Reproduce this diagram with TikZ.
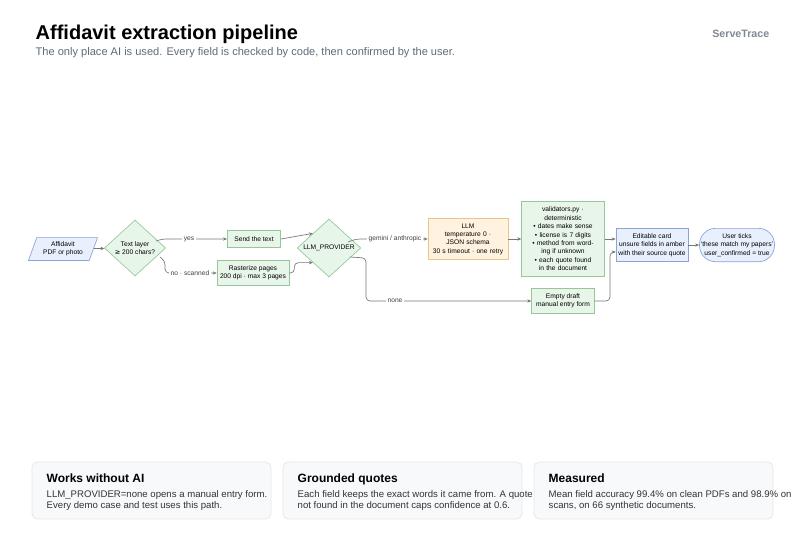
\documentclass[tikz,border=0pt]{standalone}
\usepackage{fontspec}
\setmainfont{Liberation Sans}
\newfontfamily\symf{DejaVu Sans}
\usetikzlibrary{shapes.geometric,arrows.meta}
\definecolor{bfill}{HTML}{E8F0FE}\definecolor{bdraw}{HTML}{8AA4D6}
\definecolor{gfill}{HTML}{E8F5E9}\definecolor{gdraw}{HTML}{95C79B}
\definecolor{ofill}{HTML}{FFF3E0}\definecolor{odraw}{HTML}{EBC48A}
\definecolor{edge}{HTML}{777777}\definecolor{sub}{HTML}{5F6B7A}
\definecolor{cardf}{HTML}{F8F9FA}\definecolor{cardd}{HTML}{E3E6EA}
\begin{document}
\begin{tikzpicture}[x=0.75pt,y=-0.75pt,
  nd/.style={draw,line width=0.5pt,align=center,font=\fontsize{5}{6.3}\selectfont,inner sep=1pt},
  gbox/.style={nd,fill=gfill,draw=gdraw,rectangle},
  dia/.style={nd,diamond,fill=gfill,draw=gdraw,aspect=1.1},
  ar/.style={draw=edge,line width=0.5pt,-{Stealth[length=3pt,width=2.5pt]},rounded corners=3pt},
  lb/.style={fill=white,inner sep=1pt,font=\fontsize{5}{6}\selectfont,text=black!75},
  card/.style={draw=cardd,fill=cardf,rounded corners=4pt,line width=0.5pt}]
\useasboundingbox (0,0) rectangle (806,537);
\fill[white] (0,0) rectangle (806,537);
\node[anchor=base west,font=\fontsize{15}{18}\selectfont\bfseries] (title) at (31,39) {Affidavit extraction pipeline};
\node[anchor=base west,font=\fontsize{8.3}{10}\selectfont,text=sub] (subt) at (31,55) {The only place AI is used. Every field is checked by code, then confirmed by the user.};
\node[anchor=base east,font=\fontsize{8}{10}\selectfont\bfseries,text=sub!80] (brand) at (774,37) {ServeTrace};

\node[nd,trapezium,trapezium left angle=70,trapezium right angle=110,fill=bfill,draw=bdraw,minimum width=52pt,minimum height=16pt,inner xsep=0pt] (aff) at (63,249) {Affidavit\\PDF or photo};
\node[dia,minimum width=46pt,minimum height=42pt] (d1) at (135,248) {Text layer\\{\symf ≥} 200 chars?};
\node[gbox,minimum width=40pt,minimum height=13pt] (send) at (254,239) {Send the text};
\node[gbox,minimum width=54pt,minimum height=19pt] (rast) at (253,273) {Rasterize pages\\200 dpi · max 3 pages};
\node[dia,minimum width=42pt,minimum height=43pt] (d2) at (329,248) {LLM\_PROVIDER};
\node[nd,fill=ofill,draw=odraw,minimum width=60pt,minimum height=31pt,text width=58pt] (llm) at (468,239) {LLM\\temperature 0 · JSON schema\\30 s timeout · one retry};
\node[gbox,minimum width=62pt,minimum height=56pt,text width=60pt] (val) at (563,239) {validators.py · deterministic\\• dates make sense\\• license is 7 digits\\• method from wording if unknown\\• each quote found in the document};
\node[gbox,minimum width=47pt,minimum height=19pt] (empty) at (563,301) {Empty draft\\manual entry form};
\node[nd,fill=bfill,draw=bdraw,minimum width=54pt,minimum height=25pt] (card) at (652,245) {Editable card\\unsure fields in amber\\with their source quote};
\node[nd,fill=bfill,draw=bdraw,rounded corners=12pt,minimum width=54pt,minimum height=25pt] (user) at (737,245) {User ticks\\‘these match my papers’\\user\_confirmed = true};

\draw[ar] (aff) -- (d1);
\draw[ar] (156,241) -- (162,239) -- (send.west);
\path (189,239) node[lb] (yl) {yes};
\draw[ar] (160,257) -- (165,261) |- (rast.west);
\path (190,273) node[lb] (nl) {no · scanned};
\draw[ar] (send.east) -- (d2.north west);
\draw[ar] (rast.east) -- ++(5,0) |- (d2.south west);
\draw[ar] (348,242) -- (356,239) -- (llm.west);
\path (395,239) node[lb] (gl) {gemini / anthropic};
\draw[ar] (350,257) -- (366,258) |- (empty.west);
\path (395,301) node[lb] (nn) {none};
\draw[ar] (llm) -- (val);
\draw[ar] (val.east |- 0,239) -- (card.west |- 0,239);
\draw[ar] (empty.east) -- (610,301) |- (card.west |- 0,252);
\draw[ar] (card) -- (user);

\foreach \x/\t/\a/\b [count=\i] in {32/{Works without AI}/{LLM\_PROVIDER=none opens a manual entry form.}/{Every demo case and test uses this path.},
 283/{Grounded quotes}/{Each field keeps the exact words it came from. A quote}/{not found in the document caps confidence at 0.6.},
 534/{Measured}/{Mean field accuracy 99.4\% on clean PDFs and 98.9\% on}/{scans, on 66 synthetic documents.}}{
 \draw[card] (\x,462) rectangle ++(239,57);
 \node[anchor=base west,font=\fontsize{9}{11}\selectfont\bfseries] (ct\i) at (\x+10,482) {\t};
 \node[anchor=base west,font=\fontsize{7.2}{9}\selectfont,text=black!80] (ca\i) at (\x+10,497) {\a};
 \node[anchor=base west,font=\fontsize{7.2}{9}\selectfont,text=black!80] (cb\i) at (\x+10,508) {\b};
}
\end{tikzpicture}
\end{document}
